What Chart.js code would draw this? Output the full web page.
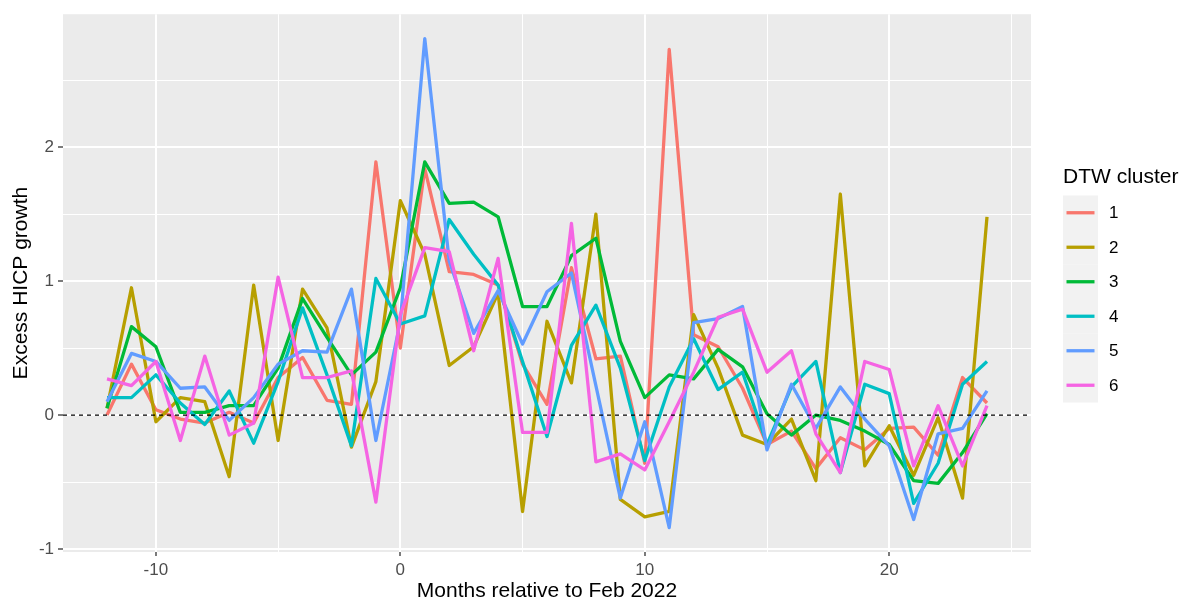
<!DOCTYPE html>
<html>
<head>
<meta charset="utf-8">
<script src="https://cdn.jsdelivr.net/npm/chart.js@4.4.1/dist/chart.umd.min.js"></script>
<style>
  html, body { margin: 0; padding: 0; background: #ffffff; }
  #wrap { position: relative; width: 1184px; height: 604px; }
</style>
</head>
<body>
<div id="wrap"><canvas id="chart" width="1184" height="604"></canvas></div>
<script>
// Months relative to Feb 2022
const months = [-12, -11, -10, -9, -8, -7, -6, -5, -4, -3, -2, -1,
                0, 1, 2, 3, 4, 5, 6, 7, 8, 9, 10, 11,
                12, 13, 14, 15, 16, 17, 18, 19, 20, 21, 22, 23, 24];

// Excess HICP growth per DTW cluster
const cluster1 = [0.00, 0.38, 0.04, -0.03, -0.06, 0.02, -0.06, 0.28, 0.43, 0.11, 0.08, 1.89,
                  0.50, 1.84, 1.07, 1.05, 0.97, 0.38, 0.08, 1.10, 0.42, 0.44, -0.36, 2.73,
                  0.60, 0.51, 0.20, -0.22, -0.12, -0.40, -0.17, -0.26, -0.10, -0.09, -0.30, 0.28, 0.09];
const cluster2 = [0.05, 0.95, -0.05, 0.13, 0.10, -0.46, 0.97, -0.19, 0.94, 0.65, -0.24, 0.25,
                  1.60, 1.20, 0.37, 0.51, 0.91, -0.72, 0.70, 0.24, 1.50, -0.63, -0.76, -0.72,
                  0.75, 0.35, -0.15, -0.22, -0.03, -0.49, 1.65, -0.38, -0.08, -0.45, -0.02, -0.62, 1.48];
const cluster3 = [0.05, 0.66, 0.51, 0.02, 0.02, 0.07, 0.07, 0.35, 0.87, 0.58, 0.30, 0.47,
                  0.95, 1.89, 1.58, 1.59, 1.48, 0.81, 0.81, 1.19, 1.32, 0.55, 0.13, 0.30,
                  0.27, 0.49, 0.36, 0.01, -0.15, 0.00, -0.04, -0.12, -0.22, -0.49, -0.51, -0.28, 0.01];
const cluster4 = [0.13, 0.13, 0.30, 0.09, -0.07, 0.18, -0.21, 0.25, 0.80, 0.30, -0.23, 1.02,
                  0.68, 0.74, 1.46, 1.20, 0.97, 0.40, -0.16, 0.52, 0.82, 0.35, -0.34, 0.21,
                  0.57, 0.19, 0.32, -0.22, 0.21, 0.40, -0.43, 0.23, 0.16, -0.66, -0.36, 0.23, 0.40];
const cluster5 = [0.10, 0.46, 0.40, 0.20, 0.21, -0.04, 0.13, 0.38, 0.48, 0.47, 0.94, -0.19,
                  0.70, 2.81, 1.15, 0.61, 0.93, 0.53, 0.92, 1.06, 0.22, -0.62, -0.05, -0.84,
                  0.69, 0.72, 0.81, -0.26, 0.23, -0.10, 0.21, -0.03, -0.23, -0.78, -0.14, -0.10, 0.18];
const cluster6 = [0.27, 0.22, 0.40, -0.19, 0.44, -0.15, -0.06, 1.03, 0.28, 0.28, 0.33, -0.65,
                  0.75, 1.25, 1.22, 0.48, 1.17, -0.13, -0.13, 1.43, -0.35, -0.29, -0.41, -0.05,
                  0.32, 0.73, 0.79, 0.32, 0.48, -0.14, -0.43, 0.40, 0.34, -0.38, 0.07, -0.38, 0.07];

const clusterNames = ['1', '2', '3', '4', '5', '6'];
const clusterSeries = [cluster1, cluster2, cluster3, cluster4, cluster5, cluster6];
const clusterColors = ['#F8766D', '#B79F00', '#00BA38', '#00BFC4', '#619CFF', '#F564E3'];

// Axis breaks: labelled majors and unlabelled minor grid lines
const xMajorTicks = [-10, 0, 10, 20];
const xMinorTicks = [-5, 5, 15, 25];
const yMajorTicks = [-1, 0, 1, 2];
const yMinorTicks = [-0.5, 0.5, 1.5, 2.5];

// ggplot-style 5% expansion of the data range
function expandRange(values) {
  const lo = Math.min(...values), hi = Math.max(...values);
  const pad = (hi - lo) * 0.05;
  return [lo - pad, hi + pad];
}
const [xMin, xMax] = expandRange(months);
const [yMin, yMax] = expandRange(clusterSeries.flat());

const FONT = '"Liberation Sans", Arial, Helvetica, sans-serif';
const LINE_WIDTH = 3.3;
Chart.defaults.font.family = FONT;

const panelBackground = {
  id: 'panelBackground',
  beforeDraw(chart) {
    const { ctx, chartArea: a } = chart;
    ctx.save();
    ctx.fillStyle = '#EBEBEB';
    ctx.fillRect(a.left, a.top, a.right - a.left, a.bottom - a.top);
    ctx.restore();
  }
};

const zeroLine = {
  id: 'zeroLine',
  afterDatasetsDraw(chart) {
    const { ctx, chartArea: a, scales } = chart;
    const y = scales.y.getPixelForValue(0);
    ctx.save();
    ctx.strokeStyle = '#000000';
    ctx.lineWidth = 1.2;
    ctx.setLineDash([4, 4]);
    ctx.beginPath();
    ctx.moveTo(a.left, y);
    ctx.lineTo(a.right, y);
    ctx.stroke();
    ctx.restore();
  }
};

const clusterLegend = {
  id: 'clusterLegend',
  afterDraw(chart) {
    const ctx = chart.ctx;
    const left = 1063, keyW = 35, keyH = 34.5, firstTop = 195.5;
    ctx.save();
    ctx.fillStyle = '#000000';
    ctx.font = '21px ' + FONT;
    ctx.textAlign = 'left';
    ctx.textBaseline = 'middle';
    ctx.fillText('DTW cluster', left, 177);
    chart.data.datasets.forEach((ds, i) => {
      const top = firstTop + i * keyH;
      ctx.fillStyle = '#F2F2F2';
      ctx.fillRect(left, top, keyW, keyH);
    });
    chart.data.datasets.forEach((ds, i) => {
      const cy = firstTop + i * keyH + keyH / 2;
      ctx.strokeStyle = ds.borderColor;
      ctx.lineWidth = LINE_WIDTH;
      ctx.beginPath();
      ctx.moveTo(left + 3.5, cy);
      ctx.lineTo(left + keyW - 3.5, cy);
      ctx.stroke();
      ctx.fillStyle = '#000000';
      ctx.font = '17px ' + FONT;
      ctx.fillText(ds.label, left + 46, cy + 1);
    });
    ctx.restore();
  }
};

const isIn = (list, v) => list.some(t => Math.abs(t - v) < 1e-9);

new Chart(document.getElementById('chart'), {
  type: 'line',
  data: {
    datasets: clusterSeries.map((series, i) => ({
      label: clusterNames[i],
      data: months.map((m, j) => ({ x: m, y: series[j] })),
      borderColor: clusterColors[i],
      backgroundColor: clusterColors[i],
      borderWidth: LINE_WIDTH,
      borderJoinStyle: 'round',
      pointRadius: 0,
      pointHoverRadius: 0,
      tension: 0,
      fill: false,
      order: clusterSeries.length - i
    }))
  },
  options: {
    responsive: false,
    animation: false,
    devicePixelRatio: 1,
    layout: { padding: { left: 0, top: 13, right: 153, bottom: 0 } },
    plugins: {
      legend: { display: false },
      tooltip: { enabled: false }
    },
    scales: {
      x: {
        type: 'linear',
        min: xMin,
        max: xMax,
        afterBuildTicks: s => { s.ticks = [...xMajorTicks, ...xMinorTicks].sort((a, b) => a - b).map(v => ({ value: v })); },
        afterFit: s => { s.height = 52; },
        border: { display: false },
        grid: {
          color: '#FFFFFF',
          lineWidth: c => isIn(xMajorTicks, c.tick.value) ? 2 : 1,
          drawTicks: true,
          tickLength: 4,
          tickWidth: 1.3,
          tickColor: c => isIn(xMajorTicks, c.tick.value) ? '#333333' : 'rgba(0,0,0,0)'
        },
        ticks: {
          autoSkip: false,
          maxRotation: 0,
          color: '#4D4D4D',
          font: { size: 17 },
          padding: 4,
          callback: v => isIn(xMajorTicks, v) ? String(v) : ''
        },
        title: {
          display: true,
          text: 'Months relative to Feb 2022',
          color: '#000000',
          font: { size: 21 },
          padding: { top: 0, bottom: 0 }
        }
      },
      y: {
        type: 'linear',
        min: yMin,
        max: yMax,
        afterBuildTicks: s => { s.ticks = [...yMajorTicks, ...yMinorTicks].sort((a, b) => a - b).map(v => ({ value: v })); },
        afterFit: s => { s.width = 63; },
        border: { display: false },
        grid: {
          color: '#FFFFFF',
          lineWidth: c => isIn(yMajorTicks, c.tick.value) ? 2 : 1,
          drawTicks: true,
          tickLength: 5,
          tickWidth: 1.3,
          tickColor: c => isIn(yMajorTicks, c.tick.value) ? '#333333' : 'rgba(0,0,0,0)'
        },
        ticks: {
          autoSkip: false,
          color: '#4D4D4D',
          font: { size: 17 },
          padding: 4,
          callback: v => isIn(yMajorTicks, v) ? String(v) : ''
        },
        title: {
          display: true,
          text: 'Excess HICP growth',
          color: '#000000',
          font: { size: 21 },
          padding: { top: 9, bottom: 0 }
        }
      }
    }
  },
  plugins: [panelBackground, zeroLine, clusterLegend]
});
</script>
</body>
</html>
